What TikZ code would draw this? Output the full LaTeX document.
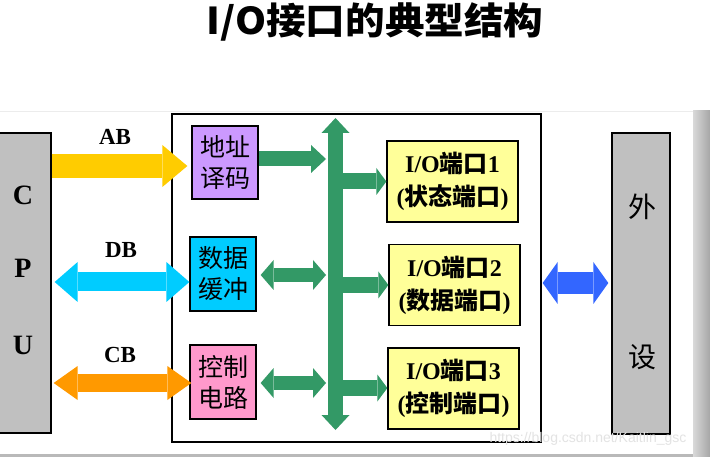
\documentclass[tikz,border=0pt]{standalone}
\usepackage{fontspec}
\setmainfont{Liberation Serif}
\newfontfamily\cjk{Noto Sans CJK SC}
\newfontfamily\wmfont{Liberation Sans}
\usetikzlibrary{arrows.meta}
\definecolor{ylw}{HTML}{FFCC00}
\definecolor{cyn}{HTML}{00CCFF}
\definecolor{org}{HTML}{FF9900}
\definecolor{grn}{HTML}{339966}
\definecolor{blu}{HTML}{3366FF}
\definecolor{vio}{HTML}{CC99FF}
\definecolor{pnk}{HTML}{FF99CC}
\definecolor{pty}{HTML}{FFFF99}
\definecolor{gry}{HTML}{C0C0C0}
\tikzset{
  box/.style={draw=black, line width=1.3pt, inner sep=0pt, align=center},
  smallbox/.style={box, minimum width=66pt, minimum height=73pt,
    font=\cjk\fontsize{25}{31}\selectfont},
  portbox/.style={box, fill=pty, minimum width=131pt, minimum height=81pt,
    font=\bfseries\fontsize{24}{33}\selectfont},
  lbl/.style={font=\bfseries\fontsize{23}{23}\selectfont, inner sep=0pt},
  cpulbl/.style={font=\bfseries\fontsize{28}{28}\selectfont, inner sep=0pt},
  perlbl/.style={font=\cjk\fontsize{28}{28}\selectfont, inner sep=0pt},
  fat/.style n args={4}{draw=#1, line width=#2, line cap=butt,
    -{Triangle[length=#3,width=#4,line width=0pt]}},
  fatd/.style n args={4}{draw=#1, line width=#2, line cap=butt,
    {Triangle[length=#3,width=#4,line width=0pt]}-{Triangle[length=#3,width=#4,line width=0pt]}},
}
\newcommand\cj[1]{{\cjk\bfseries #1}}
\begin{document}
\begin{tikzpicture}[x=1pt,y=-1pt]
\useasboundingbox (0,0) rectangle (710,457);
\fill[white] (0,0) rectangle (710,457);
% panel shadow
\shade[left color=gray!30, right color=gray!70] (693,111) rectangle (710,457);
\fill[gray!55] (0,454) rectangle (693,457);
\draw[gray!15, line width=0.8pt] (0,111) -- (693,111);

% title
\node[font=\cjk\bfseries\fontsize{37}{37}\selectfont, xscale=1.07, inner sep=0pt] (title) at (375,22) {I/O接口的典型结构};

% CPU and peripheral
\node[box, fill=gry, minimum width=58pt, minimum height=300pt] (cpu) at (22,283) {};
\node[cpulbl] (cC) at (23,195) {C};
\node[cpulbl] (cP) at (23,268) {P};
\node[cpulbl] (cU) at (23,345) {U};
\node[box, fill=gry, minimum width=58pt, minimum height=301pt] (per) at (641,283.5) {};
\node[perlbl] (pw) at (642,207) {外};
\node[perlbl] (ps) at (642,357) {设};

% interface frame
\node[box, minimum width=369pt, minimum height=328pt] (iface) at (356.5,278) {};

% inner boxes
\node[smallbox, fill=vio] (addr) at (225,162.5) {地址\\译码};
\node[smallbox, fill=cyn, minimum height=74pt] (data) at (223,274) {数据\\缓冲};
\node[smallbox, fill=pnk, minimum height=74pt] (ctrl) at (223,382) {控制\\电路};

\node[portbox] (p1) at (452.5,181.5) {I/O\cj{端口}1\\(\cj{状态端口})};
\node[portbox] (p2) at (454.5,285) {I/O\cj{端口}2\\(\cj{数据端口})};
\node[portbox] (p3) at (453.5,388.5) {I/O\cj{端口}3\\(\cj{控制端口})};

% bus labels
\node[lbl] (lab) at (115,137) {AB};
\node[lbl] (ldb) at (121,250) {DB};
\node[lbl] (lcb) at (120,355) {CB};

% CPU buses
\draw[fat={ylw}{24pt}{25pt}{42pt}] (cpu.east |- 0,166) -- ([xshift=-4pt]addr.west |- 0,166);
\draw[fatd={cyn}{19pt}{23pt}{40pt}] ([xshift=3pt]cpu.east |- 0,282) -- (data.west |- 0,282);
\draw[fatd={org}{18pt}{24pt}{34pt}] ([xshift=2pt]cpu.east |- 0,383) -- ([xshift=2pt]ctrl.west |- 0,383);

% internal bus
\coordinate (bustop) at (335.5,118);
\coordinate (busbot) at (335.5,430);
\coordinate (busL) at (326,0);
\draw[fatd={grn}{15pt}{15pt}{28pt}] (bustop) -- (busbot);
\draw[fat={grn}{15pt}{15pt}{28pt}] (addr.east |- 0,159) -- (busL |- 0,159);
\draw[fatd={grn}{14pt}{13pt}{30pt}] ([xshift=4pt]data.east |- 0,275) -- (busL |- 0,275);
\draw[fatd={grn}{14pt}{13pt}{30pt}] ([xshift=4pt]ctrl.east |- 0,383) -- (busL |- 0,383);
\draw[fat={grn}{16pt}{10pt}{27pt}] (bustop |- 0,181.5) -- (p1.west |- 0,181.5);
\draw[fat={grn}{16pt}{10pt}{27pt}] (bustop |- 0,285) -- (p2.west |- 0,285);
\draw[fat={grn}{16pt}{10pt}{27pt}] (bustop |- 0,388) -- (p3.west |- 0,388);

% to peripheral
\draw[fatd={blu}{22pt}{15pt}{42pt}] ([xshift=1pt]iface.east |- 0,283) -- ([xshift=-3pt]per.west |- 0,283);

% watermark
\node[text=white!78!gray, font=\wmfont\fontsize{14}{14}\selectfont, inner sep=0pt] (wm) at (588,439) {https://blog.csdn.net/Kaitlin\_gsc};
\end{tikzpicture}
\end{document}
